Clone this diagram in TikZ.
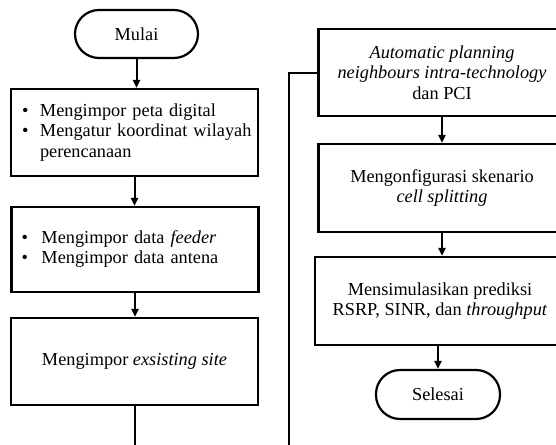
\documentclass[tikz,border=0pt]{standalone}
\usepackage{fontspec}
\setmainfont{Liberation Serif}
\usetikzlibrary{arrows.meta}
\begin{document}
\begin{tikzpicture}[x=1pt,y=-1pt,
  every node/.style={font=\fontsize{18.3}{20.5}\selectfont},
  box/.style={draw, line width=2.2pt, minimum width=247pt, minimum height=87pt, inner sep=0pt, align=center},
  term/.style={draw, line width=2.2pt, rounded corners=24pt, minimum width=123pt, minimum height=48pt},
  conn/.style={line width=2pt, -{Triangle[length=8pt,width=7pt]}},
  plain/.style={line width=2pt}]
\useasboundingbox (0,0) rectangle (556,444);
\clip (0,0) rectangle (556,444);

% left column
\node[term] (start) at (136.5,34) {Mulai};
\node[box, text width=225pt, inner xsep=11pt, align=left] (b1) at (134.5,132.5)
  {\begin{tabular}{@{}p{18pt}@{}l@{}}
   \textbullet & Mengimpor peta digital\\
   \textbullet & Mengatur koordinat wilayah\\
               & perencanaan
   \end{tabular}};
\node[box, text width=227pt, inner xsep=10pt, minimum height=85pt, align=left] (b2) at (135,249.5)
  {\begin{tabular}{@{}p{20pt}@{}l@{}}
   \textbullet & Mengimpor data \textit{feeder}\\
   \textbullet & Mengimpor data antena
   \end{tabular}};
\node[box] (b3) at (134.5,361.5) {Mengimpor \textit{exsisting site}};

% right column
\node[box] (b4) at (442,72.5) {\textit{Automatic planning}\\ \textit{neighbours intra-technology}\\ dan PCI};
\node[box, minimum height=88pt] (b5) at (442,188) {Mengonfigurasi skenario\\ \textit{cell splitting}};
\node[box, minimum width=250pt, minimum height=88pt] (b6) at (440,301) {Mensimulasikan prediksi\\ RSRP, SINR, dan \textit{throughput}};
\node[term, minimum width=124pt, minimum height=49pt] (end) at (438,394.5) {Selesai};

% connectors
\draw[conn] (start.south) -- (start.south |- b1.north);
\draw[conn] (b1.south) -- (b1.south |- b2.north);
\draw[conn] (b2.south) -- (b2.south |- b3.north);
\coordinate (lp) at (289,470);
\draw[plain] (b3.south) |- (lp) |- (b4.west);
\draw[conn] (b4.south) -- (b4.south |- b5.north);
\draw[conn] (b5.south) -- (b5.south |- b6.north);
\draw[conn] (b6.south -| end.north) -- (end.north);
\end{tikzpicture}
\end{document}
